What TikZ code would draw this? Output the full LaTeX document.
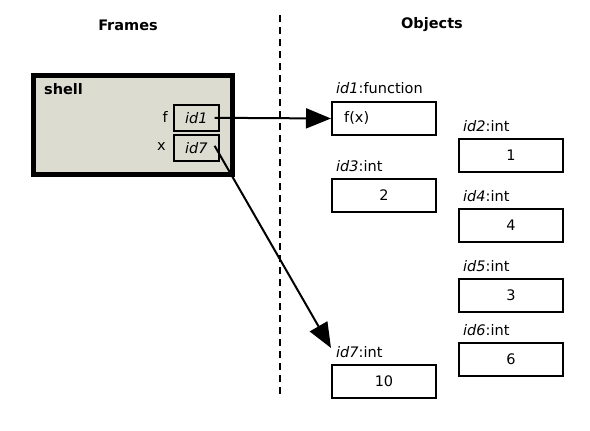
\documentclass[tikz,border=0pt]{standalone}
\usepackage{fontspec}
\setmainfont{DejaVu Sans}
\usetikzlibrary{arrows.meta}
\begin{document}
\begin{tikzpicture}[x=1pt,y=-1pt,
  font=\fontsize{14.5}{16}\selectfont,
  objbox/.style={draw,line width=2pt,minimum width=104pt,minimum height=33pt,inner sep=0pt,anchor=north west},
  idbox/.style={draw,line width=1.6pt,minimum width=45pt,minimum height=26pt,inner sep=0pt,anchor=north west},
  lbl/.style={anchor=west,inner sep=0pt},
  ref/.style={line width=2pt,-{Triangle[length=25pt,width=20pt]}}]
\useasboundingbox (0,0) rectangle (590,431);
\node[font=\fontsize{14.5}{16}\selectfont\bfseries] (frames) at (128,25) {Frames};
\node[font=\fontsize{14.5}{16}\selectfont\bfseries] (objects) at (432,25) {Objects};
\coordinate (dtop) at (280,15);
\coordinate (dbot) at (280,398);
\draw[line width=2pt,dash pattern=on 7pt off 5pt] (dtop) -- (dbot);
% frame
\node[draw,line width=4.5pt,fill={rgb,255:red,220;green,220;blue,208},minimum width=199pt,minimum height=99pt,inner sep=0pt,anchor=north west] (shell) at (31,73) {};
\node[lbl,font=\fontsize{14.5}{16}\selectfont\bfseries] (shelllbl) at (44,89) {shell};
\node[idbox] (fb) at (173,104) {\itshape id1};
\node[idbox] (xb) at (173,134) {\itshape id7};
\node[anchor=east,inner sep=0pt] (fl) at (168,117) {f};
\node[anchor=east,inner sep=0pt] (xl) at (166,147) {x};
% objects
\node[objbox] (o1) at (331,101) {};
\node[lbl] (o1t) at (344,117.5) {f(x)};
\node[lbl] (l1) at (336,88) {\itshape id1\upshape:function};
\node[objbox] (o3) at (331,178) {2};
\node[lbl] (l3) at (336,166) {\itshape id3\upshape:int};
\node[objbox] (o7) at (331,364) {10};
\node[lbl] (l7) at (336,352) {\itshape id7\upshape:int};
\node[objbox] (o2) at (458,138) {1};
\node[lbl] (l2) at (463,126) {\itshape id2\upshape:int};
\node[objbox] (o4) at (458,208) {4};
\node[lbl] (l4) at (463,196) {\itshape id4\upshape:int};
\node[objbox] (o5) at (458,278) {3};
\node[lbl] (l5) at (463,266) {\itshape id5\upshape:int};
\node[objbox] (o6) at (458,342) {6};
\node[lbl] (l6) at (463,330) {\itshape id6\upshape:int};
% references
\coordinate (fs) at ([xshift=-5pt]fb.east);
\coordinate (xs) at ([xshift=-5pt,yshift=2pt]xb.east);
\draw[ref] (fs) -- (o1.west);
\draw[ref] (xs) -- ([yshift=16pt]o7.north west);
\end{tikzpicture}
\end{document}
